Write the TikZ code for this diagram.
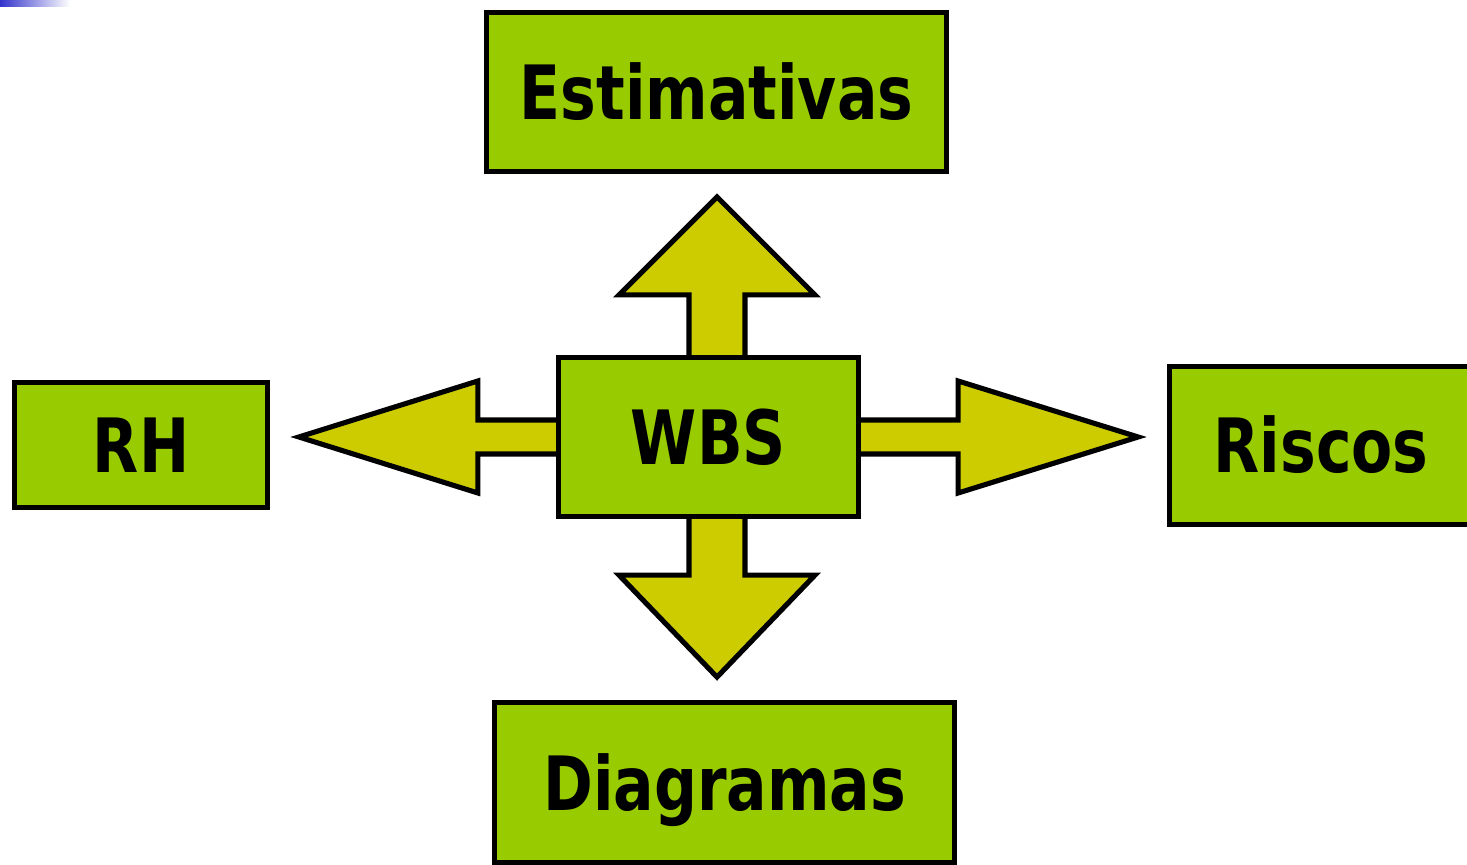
\documentclass[tikz,border=0pt]{standalone}
\usepackage{fontspec}
\setmainfont[FakeStretch=0.89]{DejaVu Sans Condensed}
\usepackage{tikz}
\usetikzlibrary{calc,backgrounds}

\definecolor{boxgreen}{HTML}{99CC00}
\definecolor{arrowolive}{HTML}{CCCC00}
\definecolor{barblue}{HTML}{3333CC}

\begin{document}
\begin{tikzpicture}[x=0.01cm,y=-0.01cm,
    Box/.style={draw=black,line width=1.45pt,fill=boxgreen,inner sep=0pt,
      font=\fontsize{21.3}{25}\selectfont\bfseries,text height=0.54cm,text depth=0pt},
    Bigarrow/.style={draw=black,line width=1.45pt,fill=arrowolive,line join=miter}]
            \useasboundingbox (0,0) rectangle (1467,865);
            \shade[left color=barblue,right color=white] (0,0) rectangle (70,7);

            \node[Box,minimum width=4.60cm,minimum height=1.59cm] (Est) at (716.5,92) {Estimativas};
            \node[Box,minimum width=3.00cm,minimum height=1.59cm] (WBS) at (708.5,437) {WBS};
            \node[Box,minimum width=2.53cm,minimum height=1.25cm] (RH) at (141,445) {RH};
            \node[Box,minimum width=3.03cm,minimum height=1.58cm] (Ris) at (1321,445.5) {Riscos};
            \node[Box,minimum width=4.60cm,minimum height=1.60cm] (Dia) at (724.5,783) {Diagramas};

            \begin{scope}[on background layer]
              % WBS -> Estimativas
              \draw[Bigarrow] ($(WBS.north)+(-19.5,0)$) -- ++(0,-60) -- ++(-70,0)
                -- ++(98,-98) -- ++(98,98) -- ++(-70,0) -- ++(0,60);
              % WBS -> Diagramas
              \draw[Bigarrow] ($(WBS.south)+(-19.5,0)$) -- ++(0,56) -- ++(-70,0)
                -- ++(98,102) -- ++(98,-102) -- ++(-70,0) -- ++(0,-56);
              % WBS -> RH
              \draw[Bigarrow] ($(WBS.west)+(0,-17)$) -- ++(-78,0) -- ++(0,-39)
                -- ++(-179,56) -- ++(179,56) -- ++(0,-39) -- ++(78,0);
              % WBS -> Riscos
              \draw[Bigarrow] ($(WBS.east)+(0,-17)$) -- ++(97,0) -- ++(0,-39)
                -- ++(180,56) -- ++(-180,56) -- ++(0,-39) -- ++(-97,0);
            \end{scope}
\end{tikzpicture}
\end{document}
